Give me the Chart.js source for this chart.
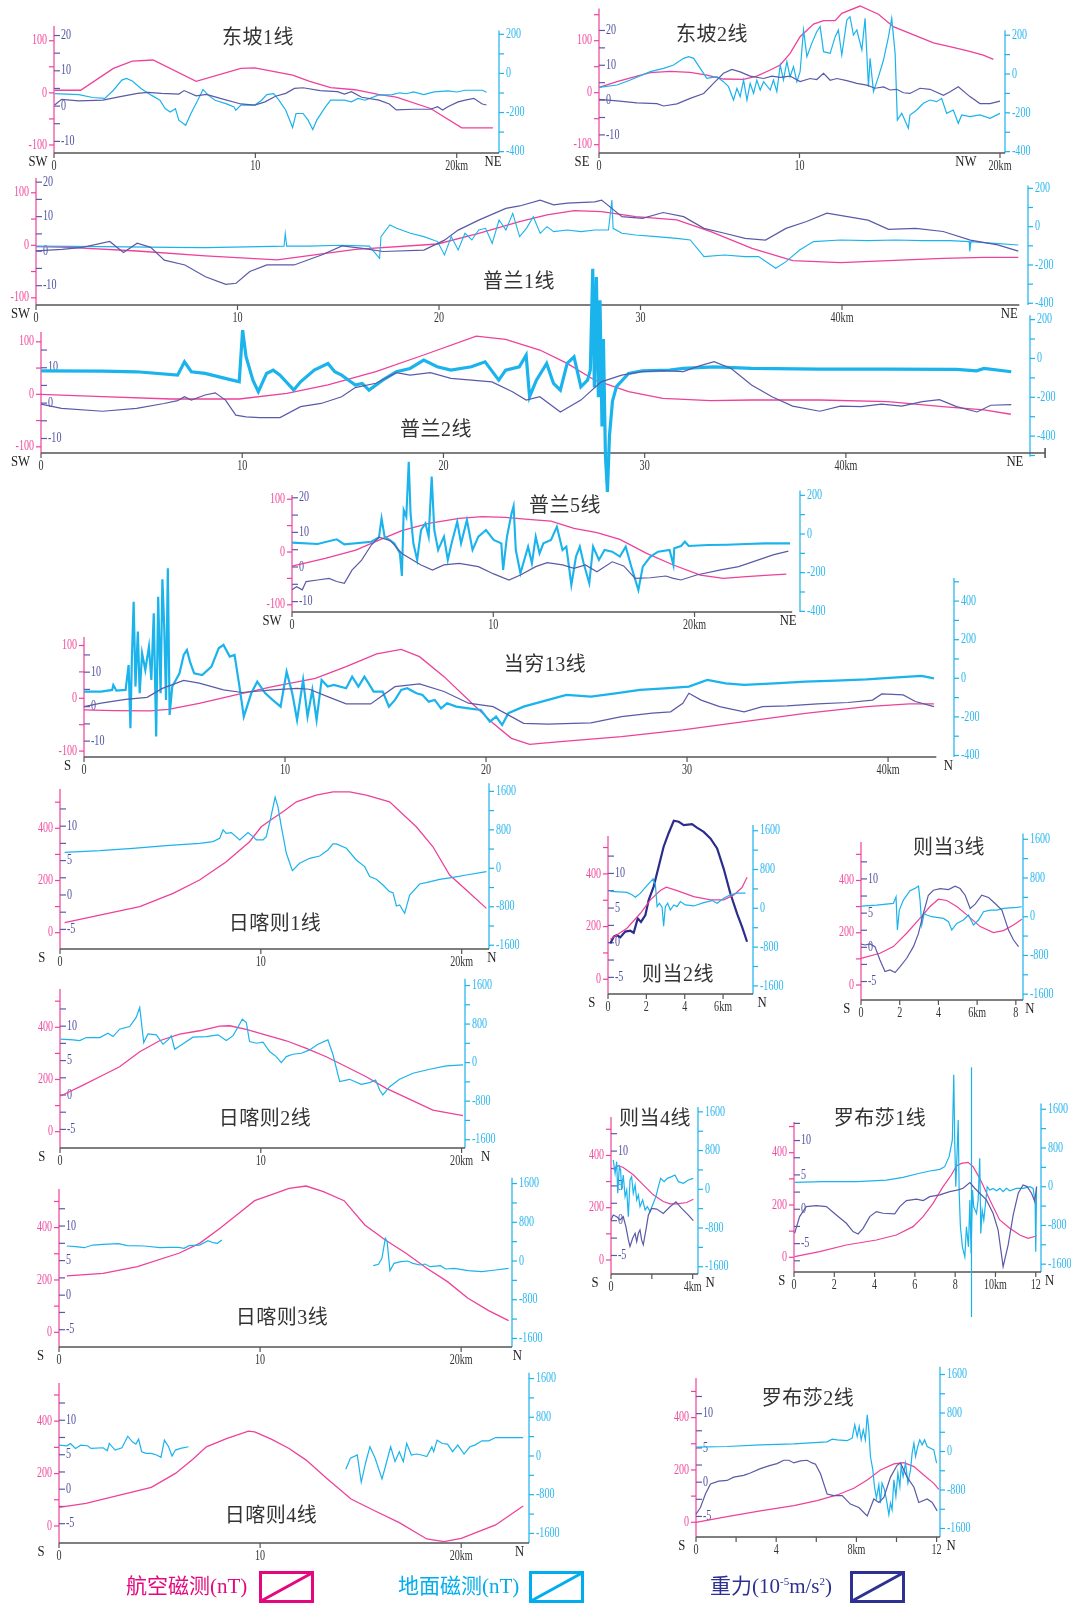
<!DOCTYPE html>
<html lang="zh">
<head>
<meta charset="utf-8">
<title>航空磁测、地面磁测与重力剖面</title>
<script src="https://cdn.jsdelivr.net/npm/chart.js@4.4.1/dist/chart.umd.min.js"></script>
<style>
html, body { margin: 0; padding: 0; background: #fff; }
#page { position: relative; width: 1071px; height: 1607px; overflow: hidden; }
#page canvas { position: absolute; }
.title { position: absolute; transform: translate(-50%, -50%); white-space: nowrap;
  font: 20px "Liberation Serif", "Noto Sans CJK SC", serif; color: #333; letter-spacing: 0.5px; }
.lg { position: absolute; white-space: nowrap; font: 21px "Liberation Serif", "Noto Sans CJK SC", serif; }
.lg sup { font-size: 11px; }
.lgbox { position: absolute; }
</style>
</head>
<body>
<div id="page"></div>
<script>
/** PROFILE DATA : [km, value] **/

// 东坡1线
var dongpo1Air = [[0.03,5],[1.32,5],[2.95,47],[3.89,61],[4.92,63],[7.06,22],[9.28,47],[9.97,48],[11.85,34],[12.7,22],[13.74,10],[14.94,6],[16.1,-3],[17.0,-8],[18.7,-30],[20.25,-67],[21.8,-67]];
var dongpo1Ground = [[0.03,-103],[1.23,-108],[1.92,-123],[2.52,-128],[2.95,-86],[3.37,-34],[3.6,-26],[3.89,-39],[4.32,-77],[4.83,-111],[5.26,-137],[5.52,-180],[5.77,-197],[6.03,-180],[6.2,-239],[6.54,-265],[6.8,-205],[7.14,-137],[7.4,-82],[7.66,-111],[8.0,-137],[8.6,-157],[8.94,-171],[9.03,-188],[9.28,-162],[9.97,-162],[10.31,-137],[10.57,-108],[10.91,-103],[11.17,-137],[11.51,-188],[11.85,-277],[12.02,-205],[12.37,-205],[12.62,-239],[12.85,-287],[13.05,-239],[13.48,-171],[13.74,-137],[14.42,-137],[14.77,-145],[15.1,-128],[15.45,-137],[16.1,-111],[16.8,-108],[17.16,-99],[17.5,-104],[17.85,-94],[18.36,-108],[18.88,-94],[19.56,-89],[20.0,-95],[20.42,-86],[21.27,-86],[21.48,-96]];
var dongpo1Gravity = [[0.03,0.3],[0.38,1.9],[1.23,1.5],[2.43,1.7],[3.29,2.7],[4.15,3.6],[4.66,3.9],[5.34,3.6],[6.2,3.4],[6.46,4.4],[7.06,2.9],[7.57,3.3],[8.26,2.2],[9.28,0.6],[9.97,0.3],[10.48,1.2],[11.0,2.8],[11.51,3.6],[11.94,5.0],[12.37,5.2],[13.22,4.4],[14.08,4.1],[14.42,3.4],[14.77,4.1],[15.28,2.5],[16.14,1.7],[16.65,0.6],[17.0,-1.1],[17.85,-0.9],[18.7,-0.9],[19.05,-0.2],[19.3,-1.1],[19.56,-0.2],[20.07,1.2],[20.42,1.7],[20.85,2.2],[21.1,1.2],[21.27,0.6],[21.48,0.3]];

// 东坡2线
var dongpo2Air = [[0,10.3],[0.9,21.2],[1.89,32],[2.56,38.5],[3.55,41],[4.55,39],[5.38,34],[6.21,26.3],[7.21,25.6],[7.87,32],[8.54,43.6],[9.04,53.2],[9.53,75.6],[10.03,107.7],[10.7,132],[11.2,138.5],[11.78,138.5],[12.11,152.6],[13.02,166.7],[13.94,151],[14.68,127],[15.85,109],[16.68,96],[17.5,88.5],[18.34,80.8],[19.17,72.4],[19.67,64]];
var dongpo2Ground = [[0,-68.7],[0.9,-56.7],[1.56,-31],[2.56,12],[3.22,29],[3.72,46.4],[4.22,80.8],[4.47,89.3],[4.72,80.8],[5.05,29],[5.38,-22.3],[5.88,-13.7],[6.21,-39.5],[6.46,-65.3],[6.71,-134],[6.88,-73.9],[7.04,-116.8],[7.21,-31],[7.38,-134],[7.54,-48],[7.71,-99.7],[7.87,-31],[8.04,-82.5],[8.21,-39.5],[8.54,-82.5],[8.7,-31],[8.87,-91],[9.04,46.4],[9.2,-31],[9.37,63.6],[9.53,-13.7],[9.7,37.8],[9.87,-39.5],[10.03,12],[10.2,226.8],[10.37,89.3],[10.61,158],[10.86,218],[11.03,244],[11.2,115],[11.53,106.5],[11.78,192.4],[11.94,226.8],[12.11,98],[12.36,278],[12.52,295.5],[12.69,201],[12.86,226.8],[13.11,123.7],[13.27,287],[13.44,-65.3],[13.52,80.8],[13.69,-91],[13.94,-13.7],[14.19,72.2],[14.44,192.4],[14.6,287],[14.77,106.5],[14.88,-237],[15.1,-202.7],[15.43,-280],[15.51,-211],[15.85,-185.6],[16.18,-151],[16.51,-134],[16.84,-142.6],[17.09,-125.4],[17.34,-202.7],[17.67,-185.6],[17.92,-254],[18.09,-211],[18.5,-220],[19.0,-211],[19.5,-228.5],[20.0,-202.7]];
var dongpo2Gravity = [[0,0.2],[0.9,-0.2],[1.89,-0.8],[2.89,-1.0],[3.22,-1.7],[3.89,-1.1],[4.55,0.5],[5.22,1.9],[5.71,4.8],[6.21,7.7],[6.63,8.8],[7.04,8.1],[7.54,6.9],[8.21,6.2],[8.62,6.9],[9.04,6.5],[9.53,6.9],[10.03,5.3],[10.53,6.2],[10.86,5.9],[11.2,7.7],[11.53,5.7],[11.86,6.2],[12.36,5.6],[12.86,4.8],[13.36,4.3],[13.77,3.4],[14.19,3.8],[14.52,2.9],[14.85,3.1],[15.18,2.1],[15.51,1.9],[16.01,3.4],[16.51,3.1],[17.18,1.4],[17.51,2.4],[17.92,3.8],[18.5,1.0],[19.0,-1.0],[19.5,-1.0],[20.0,-0.3]];

// 普兰1线
var pulan1Air = [[0,-2.5],[1.63,-3.8],[5.02,-10.8],[8.41,-20.3],[11.97,-27.9],[15.86,-7.6],[19.93,2.5],[21.97,22.9],[24.0,45],[25.36,57.8],[26.71,66],[28.07,64],[29.76,54.6],[31.8,48.3],[33.49,26],[35.53,-5.7],[37.56,-29.2],[39.93,-33],[42.3,-29.2],[45.0,-24.8],[47.05,-22.9],[48.75,-22.9]];
var pulan1Ground = [[0,-101.7],[3.32,-104],[6.71,-108],[8.41,-109.6],[11.12,-104],[12.31,-101.7],[12.37,-34.8],[12.44,-101.7],[13.49,-101.7],[15.19,-97],[16.54,-101.7],[17.05,-165],[17.12,-52],[17.56,8.7],[17.9,-8.7],[18.58,-34.8],[19.25,-52],[19.93,-78],[20.27,-148],[20.61,-52],[20.95,-122],[21.29,-34.8],[21.63,-69.6],[21.97,-17.4],[22.31,-8.7],[22.64,-87],[22.98,34.8],[23.32,-17.4],[23.66,69.6],[24.0,-52],[24.34,-8.7],[24.68,52],[25.02,-34.8],[25.36,0],[25.69,-26],[26.37,-17.4],[27.05,-26],[27.73,-17.4],[28.41,-17.4],[28.58,139],[28.64,-8.7],[29.08,-34.8],[29.76,-43.5],[30.78,-52],[31.8,-61],[32.47,-69.6],[33.15,-156.5],[34.17,-148],[35.19,-156.5],[35.86,-156.5],[36.71,-217],[37.22,-182.6],[37.9,-122],[38.58,-78],[39.93,-69.6],[41.29,-73],[42.64,-69.6],[44.0,-73],[45.36,-73],[46.31,-78],[46.34,-130],[46.4,-78],[47.05,-83.5],[48.75,-95.7]];
var pulan1Gravity = [[0,0.1],[1.29,0.5],[2.31,1.1],[3.66,2.8],[4.34,-0.4],[5.02,2.3],[5.69,1.1],[6.37,-2.6],[7.39,-4.0],[8.41,-7.4],[9.42,-9.6],[9.93,-9.3],[10.61,-5.9],[11.46,-4.0],[12.81,-4.0],[14.17,-1.1],[15.19,1.5],[16.2,0.8],[17.22,-0.1],[19.25,0.3],[20.27,3.2],[20.95,6.1],[21.97,9.0],[23.32,12.4],[24.0,13.1],[25.02,14.8],[25.69,13.4],[26.37,13.9],[27.73,14.3],[28.07,14.8],[29.08,10],[30.1,9.5],[31.12,11.2],[32.14,10],[33.15,6.6],[34.17,5.2],[35.19,3.7],[36.2,3.2],[37.22,6.6],[38.24,8.6],[39.25,11],[40.27,10],[41.29,9.0],[42.31,6.3],[43.66,6.6],[45.02,5.7],[46.37,3.2],[47.73,1.8],[48.75,0]];

// 普兰2线
var pulan2Air = [[0,0],[3.06,-4.4],[6.45,-8.9],[9.85,-8.9],[12.22,1.9],[14.26,17.8],[16.64,43.2],[19.02,74.9],[21.63,111],[23.09,104.8],[24.79,84.4],[26.15,59],[27.5,27.3],[29.2,5.1],[30.9,-7.6],[33.28,-12],[35.3,-10.8],[38.7,-10.8],[42.1,-14],[44.8,-23.5],[46.86,-29.8],[48.2,-38]];
var pulan2Ground = [[0,-63.5],[3.06,-65],[4.75,-68.6],[6.79,-85.8],[7.13,-17.2],[7.47,-68.6],[8.15,-77.2],[9.51,-111.5],[9.85,-120],[10.02,145.8],[10.19,8.6],[10.53,-111.5],[10.8,-171.5],[11.21,-77.2],[11.54,-60],[11.88,-85.8],[12.56,-163],[12.9,-120],[13.58,-60],[14.26,-25.7],[14.6,-68.6],[14.94,-85.8],[15.62,-137],[15.96,-128.6],[16.3,-163],[16.98,-111.5],[17.66,-68.6],[18.34,-51.5],[19.02,-8.6],[19.69,-42.9],[20.37,-60],[21.39,-42.9],[22.07,-17.2],[22.75,-111.5],[23.09,-60],[23.77,-42.9],[24.11,17.2],[24.28,-197],[24.62,-111.5],[25.13,-25.7],[25.47,-128.6],[25.81,-163],[26.15,-25.7],[26.49,8.6],[26.83,-145.8],[27.16,-111.5],[27.3,-60],[27.42,462],[27.5,-150],[27.6,420],[27.7,-200],[27.78,300],[27.88,-350],[27.95,100],[28.05,-500],[28.15,-688],[28.25,-400],[28.4,-220],[28.6,-145],[29.2,-77],[29.88,-63.5],[31.24,-60],[31.92,-51.5],[33.45,-42.9],[35.31,-51.5],[38.7,-55],[42.1,-55],[45.5,-56.6],[46.5,-63.5],[46.86,-51.5],[48.22,-68.6]];
var pulan2Gravity = [[0,-0.3],[1.02,-1.5],[3.06,-2.3],[4.75,-1.5],[6.11,-0.1],[6.79,0.7],[7.13,1.8],[7.47,0.85],[8.15,2.3],[8.66,2.9],[9.17,0.85],[9.68,-3.4],[10.19,-3.9],[10.87,-4.1],[11.88,-4.1],[12.9,-1.0],[13.92,-0.1],[14.94,1.8],[15.62,4.4],[16.64,5.6],[17.66,8.6],[18.34,7.9],[19.35,8.6],[20.37,7.0],[21.39,6.5],[22.41,6.0],[23.43,3.2],[24.11,0.85],[24.79,1.8],[25.81,-2.5],[26.83,0.85],[27.84,6.0],[28.86,7.9],[29.88,8.9],[30.9,9.2],[31.92,8.9],[32.6,10.3],[33.45,11.7],[34.3,9.8],[35.31,5.1],[36.33,1.8],[37.35,-0.85],[38.71,-2.3],[39.73,-0.85],[40.75,-1.0],[41.77,-0.3],[42.78,-0.85],[43.8,0.4],[44.65,1.0],[45.5,-1.0],[46.52,-2.5],[47.2,-0.6],[48.22,-0.4]];

// 普兰5线
var pulan5Air = [[0,-26.5],[1.65,-12],[3.17,3.8],[4.32,22.7],[5.46,40.4],[6.79,54.3],[8.31,63.8],[9.45,66.9],[10.59,65.7],[11.73,61.9],[12.87,58.7],[14.01,44.8],[15.15,36.6],[16.29,24],[17.62,-2.5],[18.95,-24.6],[20.29,-43.6],[21.43,-49.9],[22.57,-46.7],[23.71,-43.6],[24.56,-41.7]];
var pulan5Ground = [[0,-44.8],[1.27,-51.7],[2.22,-27.6],[2.6,-53.4],[3.94,-39.7],[4.32,-17.2],[4.45,81],[4.6,-13.8],[5.08,-48.3],[5.36,-100],[5.46,-217],[5.55,124],[5.68,89.7],[5.8,374],[5.89,107],[6.03,-48.3],[6.22,-134.5],[6.41,20.7],[6.63,55.2],[6.79,-13.8],[6.94,296.6],[7.07,20.7],[7.26,-82.8],[7.55,-13.8],[7.74,-134.5],[7.93,-48.3],[8.21,63.8],[8.4,-48.3],[8.69,72.4],[8.97,-82.8],[9.26,-13.8],[9.64,20.7],[10.02,-31],[10.4,-48.3],[10.49,-186],[10.68,-13.8],[10.91,107],[11.01,144.8],[11.12,-82.8],[11.35,-203.4],[11.54,-134.5],[11.73,-65.5],[11.92,-151.7],[12.11,-13.8],[12.3,-100],[12.49,-48.3],[12.87,-31],[13.16,37.9],[13.44,-82.8],[13.63,-65.5],[13.88,-263.8],[14.11,-117],[14.3,-65.5],[14.49,-151.7],[14.77,-255],[14.96,-65.5],[15.25,-134.5],[15.53,-82.8],[15.91,-91.4],[16.29,-117],[16.58,-65.5],[16.86,-169],[17.21,-289.7],[17.43,-169],[17.81,-117],[18.19,-91.4],[18.76,-82.8],[18.95,-160],[18.99,-74],[19.33,-62],[19.52,-39.7],[19.71,-62],[20.67,-56.9],[21.62,-55.2],[22.57,-51.7],[23.52,-48.3],[24.75,-48.3]];
var pulan5Gravity = [[0,-6.6],[0.23,-5.7],[0.51,-6.6],[0.7,-4.2],[1.27,-3.75],[1.84,-3.3],[2.22,-4.2],[2.6,-4.7],[2.98,-0.9],[3.46,2.0],[3.94,6.35],[4.32,8.6],[4.89,7.6],[5.46,3.9],[6.41,0.6],[6.98,-0.9],[7.55,0.6],[8.31,1.05],[9.26,0.1],[10.02,-2.0],[10.78,-3.75],[11.35,-2.3],[12.11,0.1],[12.68,1.25],[13.44,0.6],[14.01,-0.4],[14.58,0.6],[15.15,-1.35],[15.91,1.5],[16.48,0.3],[17.05,-3.3],[17.81,-3.1],[18.57,-2.6],[18.95,-3.3],[19.33,-3.75],[20.1,-2.3],[21.24,-0.9],[22.19,0.1],[23.14,2.0],[23.9,3.5],[24.66,4.6]];

// 当穷13线
var dangqiong13Air = [[0,-22.1],[1.46,-23.4],[3.29,-24],[4.2,-20.8],[5.73,-9.5],[7.55,6.3],[9.38,22.1],[11.51,37.9],[13.04,60],[14.56,84],[15.78,92.8],[16.69,78.9],[17.91,41],[19.13,-3.2],[20.35,-47.3],[21.26,-75.8],[22.17,-87.1],[23.7,-82],[26.74,-72.6],[29.79,-60],[32.84,-44.2],[35.88,-28.4],[38.93,-15.8],[41.06,-10.7],[42.28,-10.7]];
var dangqiong13Ground = [[0,-69],[0.85,-69],[1.4,-60.4],[1.46,-34.5],[1.61,-64],[2.07,-60.4],[2.22,69],[2.31,-259],[2.38,95],[2.47,397],[2.56,-43],[2.68,241.8],[2.77,-77.7],[2.89,129.5],[3.05,43],[3.23,164],[3.35,-8.6],[3.47,336.8],[3.59,-302],[3.69,423],[3.81,-77.7],[3.9,513],[3.99,267.7],[4.08,-112],[4.17,570],[4.26,-190],[4.39,-43],[4.57,-8.6],[4.75,25.9],[4.96,121],[5.12,146.8],[5.27,86.4],[5.48,25.9],[5.88,17.3],[6.34,60.4],[6.7,155.4],[6.94,172.7],[7.25,112.3],[7.49,121],[7.71,-25.9],[7.95,-198.6],[8.32,-77.7],[8.62,-17.3],[9.02,-77.7],[9.38,-112],[9.78,-146.8],[10.08,34.5],[10.36,-77.7],[10.6,-216],[10.9,-8.6],[11.12,-198.6],[11.36,-60.4],[11.57,-216],[11.82,-8.6],[12.12,-43],[12.43,-34.5],[13.04,-51.8],[13.34,8.6],[13.65,-43],[13.95,8.6],[14.41,-69],[14.86,-69],[15.17,-146.8],[15.47,-112],[15.78,-60.4],[16.08,-51.8],[16.54,-77.7],[16.84,-86.4],[17.15,-121],[17.45,-112],[17.76,-155.4],[18.06,-129.5],[18.52,-146.8],[19.13,-155.4],[19.74,-164],[20.19,-224.5],[20.5,-198.6],[20.8,-241.8],[21.11,-181],[21.87,-146.8],[23.09,-112],[24.0,-86.4],[25.22,-95],[26.44,-77.7],[27.66,-60.4],[28.88,-51.8],[30.09,-43],[31.01,-8.6],[31.92,-25.9],[32.84,-34.5],[34.36,-25.9],[35.88,-17.3],[37.4,-12.1],[38.93,-5.2],[40.45,5.2],[41.67,12.1],[42.28,0]];
var dangqiong13Gravity = [[0,0],[0.85,1.0],[2.07,2.1],[3.14,2.7],[3.9,5.3],[4.96,7.6],[5.73,6.8],[6.94,4.85],[7.86,4.1],[9.38,4.85],[10.6,5.3],[11.21,5.05],[12.12,2.9],[13.04,0.8],[14.26,0.8],[15.47,5.8],[16.69,6.6],[17.91,4.4],[19.13,1.0],[20.35,0],[21.87,-4.85],[23.09,-5.05],[24.31,-4.85],[25.22,-4.7],[26.74,-2.9],[28.27,-1.9],[29.18,-1.5],[29.79,1.0],[30.09,3.9],[30.7,1.9],[31.62,0],[32.84,-1.5],[33.75,0],[34.97,0.2],[36.49,0.8],[38.01,1.2],[39.23,1.9],[39.69,3.7],[40.75,3.4],[41.36,1.5],[42.28,0]];

// 日喀则1线
var rikaze1Air = [[0.23,38.3],[1.98,67.6],[3.97,99.6],[5.63,150.6],[6.95,201.7],[8.28,271.9],[9.44,348.4],[10.02,405.9],[10.6,437.8],[11.1,463.3],[11.77,501.6],[12.76,527.1],[13.59,539.9],[14.42,539.9],[15.25,527.1],[16.41,501.6],[17.74,405.9],[18.57,329.3],[19.4,220.8],[20.23,163.4],[21.23,93.2]];
var rikaze1Ground = [[0.23,333],[1.98,367.5],[3.63,416],[5.29,471.6],[6.95,520],[7.62,554.8],[7.95,624],[8.12,797.5],[8.28,728],[8.53,742],[8.95,589.5],[9.36,742],[9.61,658.8],[9.78,589.5],[10.11,589.5],[10.27,658.8],[10.47,1005.5],[10.71,1477],[10.85,1283],[11.02,867],[11.27,312],[11.57,-48.5],[11.93,104],[12.43,208],[12.93,256.6],[13.34,381.4],[13.59,506],[13.76,506],[14.26,416],[14.75,173.4],[15.17,34.7],[15.42,-173.4],[15.75,-228.8],[16.08,-346.7],[16.41,-485.4],[16.58,-506],[16.75,-783.6],[16.91,-762.8],[17.16,-936],[17.41,-554.8],[17.91,-326],[18.24,-298],[18.9,-228.8],[19.57,-187],[20.23,-138.7],[21.23,-69.3]];

// 日喀则2线
var rikaze2Air = [[0.03,136.6],[1.15,178.7],[1.98,210.6],[2.97,248.9],[3.97,306.3],[4.96,348.4],[5.96,374],[6.95,386.7],[7.95,404.6],[8.45,405.9],[9.28,391.8],[10.27,370],[11.27,348.4],[12.27,319],[13.26,287.2],[14.26,248.9],[15.25,210.6],[16.25,165.9],[17.24,130.2],[18.57,83],[20.07,61.3]];
var rikaze2Ground = [[0.03,485.4],[0.65,471.6],[0.98,457.7],[1.31,520],[1.98,520],[2.39,610],[2.64,541],[2.97,693.5],[3.47,749],[3.8,943],[3.97,1144],[4.17,416],[4.38,596],[4.8,575.6],[5.13,381.4],[5.38,471.6],[5.54,554.8],[5.71,277.4],[6.04,367.5],[6.62,527],[7.29,541],[7.87,575.6],[8.28,457.7],[8.61,554.8],[8.86,735],[9.08,901.5],[9.28,832],[9.44,437],[9.78,402],[10.11,423],[10.44,228.8],[10.77,124.8],[11.02,0],[11.27,124.8],[11.6,173.4],[12.02,194],[12.43,263.5],[12.85,381.4],[13.34,471.6],[13.59,173.4],[13.93,-395.3],[14.42,-346.7],[15.0,-450.8],[15.42,-416],[15.72,-360.6],[15.92,-568.6],[16.08,-672.7],[16.42,-499.3],[16.91,-346.7],[17.58,-221.9],[18.41,-138.7],[19.24,-69.3],[20.07,-48.5]];

// 则当2线
var zedang2Air = [[0.12,151.9],[0.99,193.7],[1.69,250.6],[2.21,301.3],[2.73,336.7],[3.04,349.4],[3.6,336.7],[4.47,313.9],[5.34,301.3],[6.03,301.3],[6.56,320.3],[6.99,348.1],[7.25,387.3]];
var zedang2Ground = [[0.12,347.7],[0.99,326.8],[1.25,278],[1.43,229.5],[1.69,313],[2.03,466],[2.35,605],[2.47,486.8],[2.56,34.8],[2.68,104.3],[2.82,20.9],[2.9,-368.6],[2.99,34.8],[3.11,104.3],[3.25,-34.8],[3.43,69.5],[3.6,34.8],[3.77,139],[4.03,69.5],[4.47,48.7],[4.99,118],[5.43,160],[5.69,104.3],[6.03,208.6],[6.38,278],[6.73,313],[7.17,313]];
var zedang2Gravity = [[0.12,-0.1],[0.3,0.87],[0.47,1.1],[0.64,0.77],[0.9,1.6],[1.16,1.73],[1.34,1.44],[1.55,3.5],[1.72,3.0],[1.95,4.0],[2.12,6.15],[2.38,8.1],[2.64,10.96],[2.9,13.85],[3.16,15.8],[3.43,17.6],[3.69,17.45],[3.95,16.97],[4.38,17.1],[4.64,16.6],[4.99,16.0],[5.34,15.05],[5.69,13.6],[6.03,10.7],[6.38,7.1],[6.73,4.2],[6.99,2.3],[7.25,0.14]];

// 则当3线
var zedang3Air = [[0,102.2],[0.98,121.4],[1.67,147],[2.36,198],[3.05,255.6],[3.57,300.3],[4.0,328.4],[4.43,323.3],[4.95,300.3],[5.47,268.4],[6.16,223.6],[6.84,200.6],[7.36,208.3],[7.88,230],[8.31,251.8]];
var zedang3Ground = [[0,220],[0.81,241],[1.67,275],[1.81,413],[1.88,-275],[1.98,137.6],[2.19,344],[2.53,536.8],[2.79,585],[2.97,633],[3.05,344],[3.14,-172],[3.26,68.8],[3.4,34.4],[3.66,0],[3.91,-13.8],[4.26,-34.4],[4.52,-103],[4.69,-275],[4.95,-137.6],[5.29,-68.8],[5.55,34.4],[5.81,-172],[6.07,-68.8],[6.33,103],[6.67,137.6],[7.02,137.6],[7.36,172],[8.05,192.7],[8.31,206.5]];
var zedang3Gravity = [[0,0.49],[0.21,0.34],[0.47,0.49],[0.72,0.1],[0.98,-1.84],[1.24,-3.54],[1.5,-3.3],[1.76,-3.69],[2.02,-2.82],[2.36,-1.6],[2.71,0.1],[2.97,2.04],[3.22,4.95],[3.48,7.62],[3.74,8.35],[4.09,8.59],[4.52,8.45],[4.86,8.93],[5.12,8.59],[5.38,7.62],[5.64,5.68],[5.9,6.31],[6.24,7.62],[6.59,7.28],[6.93,6.4],[7.28,5.44],[7.62,2.52],[7.88,1.07],[8.14,0.1]];

// 日喀则3线
var rikaze3Air = [[0.39,215.3],[2.19,225.5],[3.9,251],[5.96,302],[6.99,340],[8.01,397.5],[9.04,461],[9.73,503],[10.75,531],[11.44,550],[12.29,559],[13.15,537.6],[14.18,503],[15.21,410],[16.23,352.9],[17.26,302],[18.29,244.6],[19.32,193.6],[20.34,130],[21.37,82.8],[22.36,44.6]];
var rikaze3GroundA = [[0.39,309.7],[0.82,296],[1.25,275],[1.68,330],[2.19,344],[2.96,357.9],[3.39,316.6],[4.25,309.7],[5.02,275],[5.45,282],[5.96,282],[6.22,261.5],[6.47,316.6],[6.99,330],[7.41,419.8],[7.67,378.5],[7.88,364.8],[8.1,433.6]];
var rikaze3GroundB = [[15.63,-96.4],[15.89,-68.8],[16.06,55],[16.23,468],[16.32,399],[16.46,-199.6],[16.66,-48.2],[17.0,-13.8],[17.35,0],[17.6,-48.2],[17.95,-82.6],[18.2,-62],[18.46,-117],[18.97,-96.4],[19.23,-165],[19.66,-151.4],[20.34,-199.6],[21.03,-220],[21.71,-185.8],[22.36,-151.4]];

// 则当4线
var zedang4Air = [[0.08,347.6],[0.36,360.4],[0.6,354],[1.09,325.9],[1.58,287.5],[2.07,249.2],[2.56,223.6],[2.89,214.7],[3.22,214.7],[3.71,219.8],[4.03,232.6]];
var zedang4Ground = [[0.11,605.6],[0.2,330.4],[0.28,571.2],[0.33,-82.6],[0.41,468],[0.47,399.2],[0.52,-13.8],[0.6,296],[0.69,-151.4],[0.77,-13.8],[0.85,-564.3],[0.93,192.7],[1.01,261.5],[1.09,-82.6],[1.18,89.5],[1.26,-220],[1.34,-117],[1.42,-357.9],[1.55,-220],[1.67,-426.7],[1.78,-357.9],[1.91,-461],[2.07,-289],[2.2,-151.4],[2.32,55],[2.43,227],[2.6,158.3],[2.76,227],[2.97,261.5],[3.13,296],[3.3,158.3],[3.54,123.9],[3.79,192.7],[4.03,227]];
var zedang4Gravity = [[0,0.1],[0.11,0.81],[0.28,0.57],[0.44,0.1],[0.6,0.57],[0.73,-0.86],[0.85,-2.76],[0.93,-3.71],[1.06,-2.52],[1.18,-1.81],[1.26,-3.0],[1.34,-1.81],[1.42,-1.33],[1.5,-2.76],[1.58,-3.48],[1.71,-1.33],[1.83,0.81],[1.99,1.76],[2.24,1.67],[2.56,1.05],[2.89,2.0],[3.18,2.71],[3.46,1.76],[3.79,0.81],[4.03,0]];

// 罗布莎1线
var luobusha1Air = [[0.03,2.5],[1.27,21.7],[2.6,47.1],[4.09,66.2],[5.08,85.4],[5.91,117.2],[6.41,155.4],[6.9,206.4],[7.4,270],[7.81,314.6],[8.06,349],[8.31,359.2],[8.64,363],[8.89,346.5],[9.22,302],[9.72,219],[10.21,142.7],[10.71,110.8],[11.21,85.4],[11.62,72.6],[12.04,81.5]];
var luobusha1Ground = [[0.03,89.7],[1.44,103.5],[3.1,103.5],[4.59,138],[5.41,193.2],[6.08,262.2],[6.74,324.4],[7.24,358.9],[7.48,414],[7.7,621],[7.86,966],[7.93,2312],[7.98,897],[8.03,0],[8.1,759],[8.15,1380],[8.2,-138],[8.26,-828],[8.36,-1242],[8.48,-1449],[8.56,-828],[8.66,-1242],[8.73,-276],[8.79,-1380],[8.86,-69],[8.92,-414],[9.06,-552],[9.14,-276],[9.22,586.6],[9.27,-966],[9.34,-483],[9.42,-690],[9.49,-414],[9.59,0],[9.72,-69],[9.88,-34.5],[10.05,-82.8],[10.22,-34.5],[10.38,-103.5],[10.55,-34.5],[10.71,-82.8],[11.04,-34.5],[11.37,-34.5],[11.71,0],[11.87,-34.5],[11.97,-345],[12.0,-1346],[12.04,0]];
var luobusha1GroundMark = [[8.81,2470],[8.81,-2710]];
var luobusha1Gravity = [[0.03,-3.5],[0.28,-1.07],[0.61,0.39],[1.11,0.53],[1.61,0.39],[2.1,-0.83],[2.6,-2.04],[2.93,-3.25],[3.18,-3.6],[3.43,-2.77],[3.76,-1.07],[4.09,-0.34],[4.42,-0.58],[5.0,-0.68],[5.25,0.39],[5.58,1.26],[6.08,1.46],[6.41,1.26],[6.74,1.84],[7.24,2.09],[7.73,2.57],[8.15,2.82],[8.39,3.06],[8.73,3.88],[8.97,3.06],[9.22,2.33],[9.55,1.36],[9.88,-0.58],[10.13,-3.0],[10.38,-8.35],[10.63,-5.19],[10.88,-0.83],[11.13,2.33],[11.37,3.54],[11.57,3.3],[11.79,2.33],[11.95,1.12],[12.04,3.3]];

// 日喀则4线
var rikaze4Air = [[0,71.1],[1.34,86.3],[2.71,111.7],[4.59,147.3],[5.79,200.6],[6.64,254],[7.33,302.2],[8.36,334],[9.42,362],[9.73,359.4],[10.58,330.2],[11.44,295.9],[12.29,251.4],[13.32,181.6],[14.52,102.9],[15.72,57.1],[16.92,12.7],[18.29,-49.5],[19.14,-59.7],[20.0,-47],[21.71,3.8],[23.08,76.2]];
var rikaze4GroundA = [[0,224.5],[0.39,210.9],[0.57,258.5],[0.82,156.5],[1.08,224.5],[1.42,210.9],[1.59,156.5],[2.19,170],[2.4,108.8],[2.5,258.5],[2.79,122.4],[3.13,170],[3.42,408],[3.65,292.5],[3.82,245],[3.96,347],[4.11,88.4],[4.33,54.4],[4.59,54.4],[4.85,20.4],[5.07,-27.2],[5.24,326.5],[5.45,190.5],[5.62,0],[5.79,122.4],[6.04,156.5],[6.44,190.5]];
var rikaze4GroundB = [[14.26,-272],[14.49,-47.6],[14.83,20.4],[15.03,-544],[15.24,-149.7],[15.46,190.5],[15.72,-47.6],[16.06,-476],[16.23,-217.7],[16.49,190.5],[16.71,-115.6],[16.92,88.4],[17.12,-115.6],[17.29,258.5],[17.52,20.4],[17.77,40.8],[18.03,20.4],[18.29,-13.6],[18.54,190.5],[18.63,88.4],[18.8,326.5],[19.06,258.5],[19.32,245],[19.57,88.4],[19.83,224.5],[20.14,40.8],[20.43,190.5],[20.68,224.5],[21.03,313],[21.37,313],[21.71,381],[22.4,381],[23.08,381]];

// 罗布莎2线
var luobusha2Air = [[0,0],[1.55,21.7],[3.21,43.3],[4.88,63.7],[6.04,82.8],[7.04,104.5],[7.87,130],[8.54,161.8],[9.2,200],[9.87,223],[10.37,228],[10.87,212.7],[11.36,180.9],[11.86,149],[12.11,126.1]];
var luobusha2Ground = [[0,89.9],[1.55,103.7],[3.21,138.3],[4.88,159],[6.54,200.6],[6.79,255.9],[7.04,242],[7.54,228.2],[7.79,276.6],[7.92,553.3],[8.04,311.2],[8.14,518.7],[8.24,242],[8.34,449.5],[8.45,242],[8.54,761.4],[8.62,449.5],[8.7,-103.7],[8.82,-380.4],[8.9,-726.1],[9.0,-968.2],[9.12,-691.6],[9.2,-1072],[9.28,-657],[9.4,-795.3],[9.5,-1002.8],[9.62,-1314],[9.7,-1072],[9.78,-1210],[9.87,-587.8],[9.97,-933.6],[10.07,-449.5],[10.17,-726.1],[10.23,-311.2],[10.33,-518.7],[10.45,-242],[10.57,-657],[10.7,-380.4],[10.78,-34.6],[10.87,172.9],[10.95,-103.7],[11.06,103.7],[11.16,242],[11.28,138.3],[11.4,242],[11.53,103.7],[11.7,69.2],[11.86,34.6],[12.0,-242]];
var luobusha2Gravity = [[0,-4.68],[0.22,-3.69],[0.47,-1.72],[0.72,-0.25],[1.13,0.15],[1.55,0.25],[1.88,0.74],[2.38,0.99],[2.71,1.33],[3.21,1.97],[3.71,2.46],[4.04,2.71],[4.38,3.2],[4.63,3.2],[4.88,2.81],[5.21,3.1],[5.54,3.2],[5.79,2.81],[5.96,2.61],[6.21,1.23],[6.54,-1.72],[6.87,-1.97],[7.29,-1.97],[7.7,-3.2],[8.12,-3.69],[8.54,-4.93],[8.87,-2.46],[9.12,-2.96],[9.37,-2.22],[9.7,0.74],[10.03,2.46],[10.2,2.81],[10.53,0.74],[10.87,-0.74],[11.11,-2.96],[11.53,-2.46],[11.78,-2.96],[12.03,-4.19]];

/** STYLE **/
var AIR = '#ee4199', AIR_TEXT = '#f04c9f';
var GROUND = '#1ab3ec', GROUND_TEXT = '#2bb6ee';
var GRAV = '#5a5aa8', GRAV_TEXT = '#50509f';
var GRAV_DARK = '#2c2c8a';

// tick sets for the two kinds of panels
var ticksA = {
    airTicks: [-100, -50, 0, 50, 100], airLabels: [-100, 0, 100],
    gravTicks: [-10, -5, 0, 5, 10, 15, 20], gravLabels: [-10, 0, 10, 20],
    groundTicks: [-400, -300, -200, -100, 0, 100, 200], groundLabels: [-400, -200, 0, 200],
    groundTop: 220
};
var ticksB = {
    airTicks: [0, 100, 200, 300, 400, 500], airLabels: [0, 200, 400],
    gravTicks: [-5, -2.5, 0, 2.5, 5, 7.5, 10, 12.5], gravLabels: [-5, 0, 5, 10],
    groundTicks: [-1600, -1200, -800, -400, 0, 400, 800, 1200, 1600], groundLabels: [-1600, -800, 0, 800, 1600],
    groundTop: 1720
};
var km10 = { xTicks: [0, 10, 20], xLabels: ['0', '10', '20km'] };
var km40 = { xTicks: [0, 10, 20, 30, 40], xLabels: ['0', '10', '20', '30', '40km'] };

var panels = [
    Object.assign({}, ticksA, km10, {
        title: '东坡1线', titleAt: [258, 35], plot: [54, 26, 499, 153], xMax: 22.1,
        air: [-115.4, 128.3], grav: [-13.3, 22.7], ground: [-407, 242.6],
        dir: ['SW', 'NE', 21.8, 16],
        series: [[dongpo1Gravity, 'grav', GRAV, 1.2], [dongpo1Ground, 'ground', GROUND, 1.2], [dongpo1Air, 'air', AIR, 1.3]]
    }),
    Object.assign({}, ticksA, km10, {
        title: '东坡2线', titleAt: [712, 32], plot: [599, 4, 1005, 153], xMax: 20.25,
        air: [-116, 170.6], grav: [-15.2, 27.6], ground: [-407, 360.8],
        airTicks: [-100, -50, 0, 50, 100, 150], airTop: 162, groundTop: 226,
        dir: ['SE', 'NW', 18.3, 17],
        series: [[dongpo2Gravity, 'grav', GRAV, 1.2], [dongpo2Ground, 'ground', GROUND, 1.2], [dongpo2Air, 'air', AIR, 1.3]]
    }),
    Object.assign({}, ticksA, km40, {
        title: '普兰1线', titleAt: [519, 279], plot: [36, 178, 1028, 305], xMax: 49.23, xEnd: 48.8,
        air: [-113.7, 128.2], grav: [-15.6, 21.2], ground: [-409, 254], groundTop: 215,
        dir: ['SW', 'NE', 48.3, 15.5],
        series: [[pulan1Gravity, 'grav', GRAV, 1.2], [pulan1Ground, 'ground', GROUND, 1.1], [pulan1Air, 'air', AIR, 1.3]]
    }),
    Object.assign({}, ticksA, km40, {
        title: '普兰2线', titleAt: [436, 427], plot: [41, 332, 1030, 453], xMax: 49.15, xEnd: 49.9, xEndTick: true,
        air: [-111.8, 118.7], grav: [-14.1, 20.1], ground: [-487, 136.3],
        gravTicks: [-10, -5, 0, 5, 10, 15], gravLabels: [-10, 0, 10],
        groundTicks: [-500, -400, -300, -200, -100, 0, 100, 200], groundTop: 222, groundBottom: -506,
        dir: ['SW', 'NE', 48.4, 20.5],
        series: [[pulan2Gravity, 'grav', GRAV, 1.2], [pulan2Ground, 'ground', GROUND, 3.2], [pulan2Air, 'air', AIR, 1.3]]
    }),
    Object.assign({}, ticksA, km10, {
        title: '普兰5线', titleAt: [565, 503], plot: [292, 495, 800, 612], xMax: 25.24, xEnd: 24.85,
        air: [-113.6, 108], grav: [-13, 20.8], ground: [-403.5, 201.8], groundTop: 225,
        dir: ['SW', 'NE', 24.65, 20],
        series: [[pulan5Gravity, 'grav', GRAV, 1.2], [pulan5Ground, 'ground', GROUND, 2.1], [pulan5Air, 'air', AIR, 1.3]]
    }),
    Object.assign({}, ticksA, km40, {
        title: '当穷13线', titleAt: [545, 662], plot: [84, 637, 954, 757], xMax: 43.28, xEnd: 42.4,
        air: [-111.2, 116.1], grav: [-14.6, 20.2], ground: [-407.8, 214],
        gravTicks: [-10, -5, 0, 5, 10, 15], gravLabels: [-10, 0, 10],
        groundTicks: [-400, -300, -200, -100, 0, 100, 200, 300, 400, 500], groundLabels: [-400, -200, 0, 200, 400], groundTop: 520,
        dir: ['S', 'N', 43.0, 16.5],
        series: [[dangqiong13Gravity, 'grav', GRAV, 1.2], [dangqiong13Ground, 'ground', GROUND, 2.2], [dangqiong13Air, 'air', AIR, 1.3]]
    }),
    Object.assign({}, ticksB, km10, {
        title: '日喀则1线', titleAt: [275, 921], plot: [60, 789, 489, 949], xMax: 21.36,
        air: [-62.5, 550.6], grav: [-7.85, 15.4], ground: [-1678, 1649], groundTop: 1770,
        dir: ['S', 'N', 21.5, 18.3],
        series: [[rikaze1Ground, 'ground', GROUND, 1.2], [rikaze1Air, 'air', AIR, 1.3]]
    }),
    Object.assign({}, ticksB, {
        title: '则当2线', titleAt: [678, 972], plot: [608, 836, 753, 994], xMax: 7.56,
        xTicks: [0, 2, 4, 6], xLabels: ['0', '2', '4', '6km'],
        air: [-55.8, 543.8], grav: [-7.4, 15.4], ground: [-1767, 1491],
        dir: ['S', 'N', 8.03, 16.3],
        series: [[zedang2Ground, 'ground', GROUND, 1.2], [zedang2Air, 'air', AIR, 1.2], [zedang2Gravity, 'grav', GRAV_DARK, 2.2]]
    }),
    Object.assign({}, ticksB, {
        title: '则当3线', titleAt: [949, 845], plot: [861, 842, 1023, 1000], xMax: 8.37,
        xTicks: [0, 2, 4, 6, 8], xLabels: ['0', '2', '4', '6km', '8'],
        air: [-57.4, 547.3], grav: [-7.7, 15.4], ground: [-1721, 1544],
        dir: ['S', 'N', 8.73, 14.3],
        series: [[zedang3Gravity, 'grav', GRAV, 1.2], [zedang3Ground, 'ground', GROUND, 1.2], [zedang3Air, 'air', AIR, 1.2]]
    }),
    Object.assign({}, ticksB, km10, {
        title: '日喀则2线', titleAt: [265, 1116], plot: [60, 989, 465, 1148], xMax: 20.17,
        air: [-62.5, 546.7], grav: [-7.7, 15.4], ground: [-1773, 1528], groundTop: 1740,
        dir: ['S', 'N', 21.2, 18.3],
        series: [[rikaze2Ground, 'ground', GROUND, 1.2], [rikaze2Air, 'air', AIR, 1.3]]
    }),
    Object.assign({}, ticksB, km10, {
        title: '日喀则3线', titleAt: [282, 1315], plot: [59, 1189, 512, 1347], xMax: 22.53,
        air: [-56.2, 547.6], grav: [-7.5, 15.36], ground: [-1777, 1488],
        dir: ['S', 'N', 22.8, 18.4],
        series: [[rikaze3GroundA, 'ground', GROUND, 1.2], [rikaze3GroundB, 'ground', GROUND, 1.2], [rikaze3Air, 'air', AIR, 1.3]]
    }),
    Object.assign({}, ticksB, {
        title: '则当4线', titleAt: [655, 1116], plot: [611, 1117, 698, 1274], xMax: 4.26,
        xTicks: [0, 2, 4], xLabels: ['0', '', '4km'],
        air: [-53.7, 547], grav: [-7.66, 14.9], ground: [-1750, 1494], groundTop: 1700,
        dir: ['S', 'N', 4.85, 16],
        series: [[zedang4Gravity, 'grav', GRAV, 1.2], [zedang4Ground, 'ground', GROUND, 1.2], [zedang4Air, 'air', AIR, 1.2]]
    }),
    Object.assign({}, ticksB, {
        title: '罗布莎1线', titleAt: [880, 1116], plot: [794, 1122, 1041, 1272], xMax: 12.26,
        xTicks: [0, 2, 4, 6, 8, 10, 12], xLabels: ['0', '2', '4', '6', '8', '10km', '12'],
        air: [-56.2, 517.4], grav: [-9.13, 12.7], ground: [-1762, 1337],
        gravTicks: [-7.5, -5, -2.5, 0, 2.5, 5, 7.5, 10, 12.5],
        dir: ['S', 'N', 12.69, 12.3],
        series: [[luobusha1Gravity, 'grav', GRAV, 1.2], [luobusha1Ground, 'ground', GROUND, 1.2], [luobusha1GroundMark, 'ground', GROUND, 1.2], [luobusha1Air, 'air', AIR, 1.2]]
    }),
    Object.assign({}, ticksB, km10, {
        title: '日喀则4线', titleAt: [271, 1513], plot: [59, 1383, 529, 1543], xMax: 23.37,
        air: [-65, 545.7], grav: [-7.8, 15.4], ground: [-1798, 1508],
        dir: ['S', 'N', 22.9, 18],
        series: [[rikaze4GroundA, 'ground', GROUND, 1.2], [rikaze4GroundB, 'ground', GROUND, 1.2], [rikaze4Air, 'air', AIR, 1.3]]
    }),
    Object.assign({}, ticksB, {
        title: '罗布莎2线', titleAt: [808, 1396], plot: [696, 1378, 940, 1537], xMax: 12.17,
        xTicks: [0, 2, 4, 6, 8, 10, 12], xLabels: ['0', '', '4', '', '8km', '', '12'],
        air: [-56.2, 551.4], grav: [-8.0, 15.2], ground: [-1777, 1528], groundTop: 1760,
        dir: ['S', 'N', 12.73, 14.3],
        series: [[luobusha2Gravity, 'grav', GRAV, 1.2], [luobusha2Ground, 'ground', GROUND, 1.2], [luobusha2Air, 'air', AIR, 1.2]]
    })
];

/** DRAWING HELPERS **/
function seg(ctx, x1, y1, x2, y2) {
    ctx.beginPath();
    ctx.moveTo(x1, y1);
    ctx.lineTo(x2, y2);
    ctx.stroke();
}

// narrow serif labels, like the printed figure
function label(ctx, text, x, y, align, color, size, squeeze) {
    ctx.save();
    ctx.font = (size || 14) + 'px "Liberation Serif", serif';
    ctx.fillStyle = color;
    ctx.textAlign = align;
    ctx.textBaseline = 'middle';
    ctx.translate(x, y);
    ctx.scale(squeeze || 0.72, 1);
    ctx.fillText(text, 0, 0);
    ctx.restore();
}

function axesPlugin(p) {
    return {
        id: 'profileAxes',
        beforeDatasetsDraw: function (chart) {
            var ctx = chart.ctx, a = chart.chartArea;
            var x = chart.scales.x, air = chart.scales.air, grav = chart.scales.grav, gr = chart.scales.ground;
            ctx.save();
            ctx.lineWidth = 1.2;

            // aeromagnetic axis (left, pink)
            ctx.strokeStyle = AIR;
            seg(ctx, a.left, a.bottom, a.left, p.airTop != null ? air.getPixelForValue(p.airTop) : a.top);
            p.airTicks.forEach(function (v) {
                var y = air.getPixelForValue(v);
                seg(ctx, a.left - 5, y, a.left, y);
            });
            p.airLabels.forEach(function (v) {
                label(ctx, String(v), a.left - 7, air.getPixelForValue(v), 'right', AIR_TEXT);
            });

            // gravity ticks sit on the inside of the same line
            ctx.strokeStyle = GRAV;
            p.gravTicks.forEach(function (v) {
                var y = grav.getPixelForValue(v);
                seg(ctx, a.left, y, a.left + 6, y);
            });
            p.gravLabels.forEach(function (v) {
                label(ctx, String(v), a.left + 7, grav.getPixelForValue(v), 'left', GRAV_TEXT);
            });

            // ground magnetic axis (right, cyan)
            ctx.strokeStyle = GROUND;
            var gb = p.groundBottom != null ? gr.getPixelForValue(p.groundBottom) : a.bottom;
            seg(ctx, a.right, gb, a.right, gr.getPixelForValue(p.groundTop));
            p.groundTicks.forEach(function (v) {
                var y = gr.getPixelForValue(v);
                seg(ctx, a.right, y, a.right + 5, y);
            });
            p.groundLabels.forEach(function (v) {
                label(ctx, String(v), a.right + 7, gr.getPixelForValue(v), 'left', GROUND_TEXT);
            });

            // distance axis
            ctx.strokeStyle = '#555';
            ctx.lineWidth = 1.6;
            var xe = x.getPixelForValue(p.xEnd != null ? p.xEnd : p.xMax);
            seg(ctx, a.left, a.bottom, xe, a.bottom);
            if (p.xEndTick) seg(ctx, xe, a.bottom - 5, xe, a.bottom + 5);
            ctx.lineWidth = 1.2;
            p.xTicks.forEach(function (v, i) {
                var px = x.getPixelForValue(v);
                seg(ctx, px, a.bottom, px, a.bottom + 5);
                if (p.xLabels[i]) label(ctx, p.xLabels[i], px, a.bottom + 13, 'center', '#333');
            });
            label(ctx, p.dir[0], a.left - p.dir[3], a.bottom + 9, 'center', '#222', 15, 0.85);
            label(ctx, p.dir[1], x.getPixelForValue(p.dir[2]), a.bottom + 9, 'center', '#222', 15, 0.85);
            ctx.restore();
        }
    };
}

/** BUILD PANELS **/
var page = document.getElementById('page');
var M = { l: 50, t: 80, r: 50, b: 45 };

panels.forEach(function (p) {
    var cv = document.createElement('canvas');
    var w = p.plot[2] - p.plot[0] + M.l + M.r;
    var h = p.plot[3] - p.plot[1] + M.t + M.b;
    cv.width = w;
    cv.height = h;
    cv.style.left = (p.plot[0] - M.l) + 'px';
    cv.style.top = (p.plot[1] - M.t) + 'px';
    cv.style.width = w + 'px';
    cv.style.height = h + 'px';
    page.appendChild(cv);

    new Chart(cv, {
        type: 'scatter',
        data: {
            datasets: p.series.map(function (s) {
                return {
                    data: s[0].map(function (d) { return { x: d[0], y: d[1] }; }),
                    yAxisID: s[1],
                    borderColor: s[2],
                    borderWidth: s[3],
                    showLine: true,
                    pointRadius: 0,
                    pointHoverRadius: 0,
                    tension: 0,
                    clip: false
                };
            })
        },
        options: {
            responsive: false,
            animation: false,
            events: [],
            layout: { padding: { left: M.l, top: M.t, right: M.r, bottom: M.b } },
            plugins: { legend: { display: false }, tooltip: { enabled: false } },
            scales: {
                x: { type: 'linear', min: 0, max: p.xMax, display: false },
                air: { type: 'linear', axis: 'y', position: 'left', min: p.air[0], max: p.air[1], display: false },
                grav: { type: 'linear', axis: 'y', position: 'left', min: p.grav[0], max: p.grav[1], display: false },
                ground: { type: 'linear', axis: 'y', position: 'right', min: p.ground[0], max: p.ground[1], display: false }
            }
        },
        plugins: [axesPlugin(p)]
    });

    var t = document.createElement('div');
    t.className = 'title';
    t.textContent = p.title;
    t.style.left = p.titleAt[0] + 'px';
    t.style.top = p.titleAt[1] + 'px';
    page.appendChild(t);
});

/** LEGEND **/
var legend = [
    ['航空磁测(nT)', '#e4087e', 126, 259],
    ['地面磁测(nT)', '#00aeef', 398, 529],
    ['重力(10<sup>-5</sup>m/s<sup>2</sup>)', '#2e3192', 710, 850]
];
legend.forEach(function (l) {
    var d = document.createElement('div');
    d.className = 'lg';
    d.innerHTML = l[0];
    d.style.color = l[1];
    d.style.left = l[2] + 'px';
    d.style.top = '1569px';
    page.appendChild(d);
    var box = document.createElementNS('http://www.w3.org/2000/svg', 'svg');
    box.setAttribute('class', 'lgbox');
    box.setAttribute('width', '56');
    box.setAttribute('height', '32');
    box.style.left = l[3] + 'px';
    box.style.top = '1571px';
    box.innerHTML = '<rect x="1.5" y="1.5" width="52" height="29" fill="none" stroke="' + l[1] + '" stroke-width="3"/>' +
        '<line x1="2" y1="30" x2="53" y2="2" stroke="' + l[1] + '" stroke-width="3"/>';
    page.appendChild(box);
});
</script>
</body>
</html>
